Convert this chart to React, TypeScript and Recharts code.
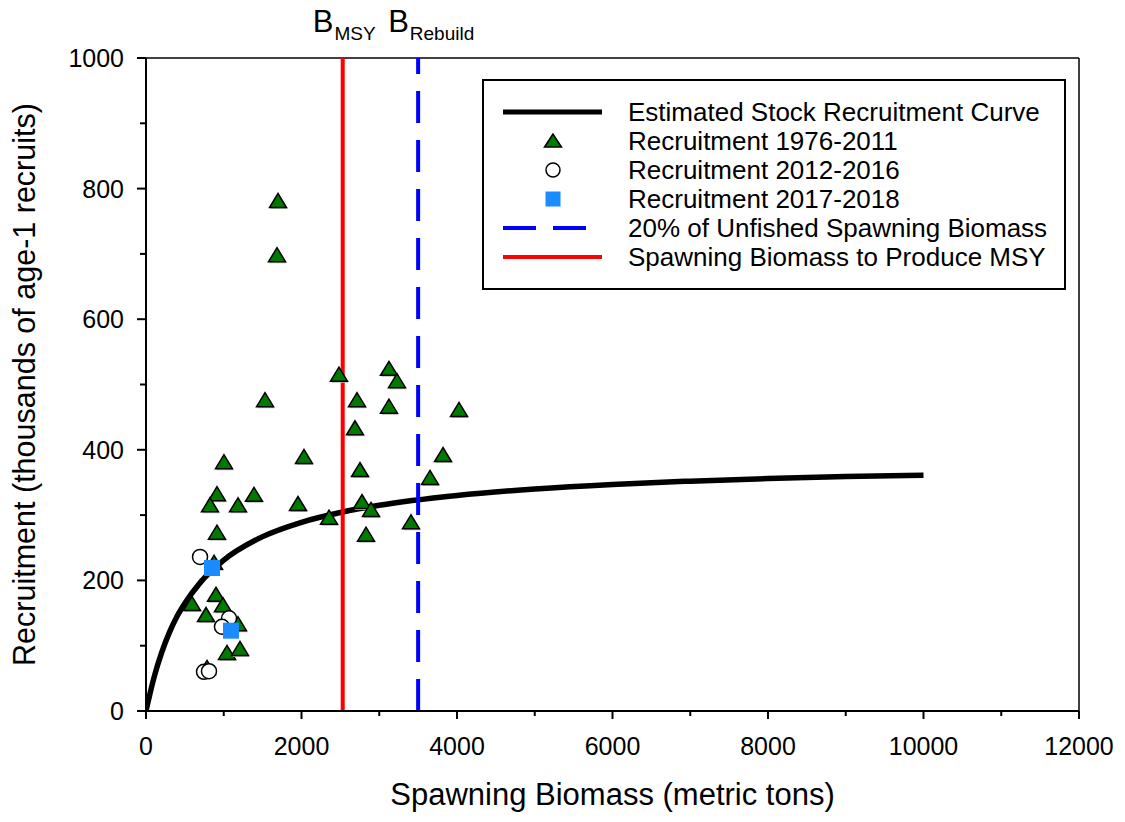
import React from 'react';
import {
  ComposedChart,
  Line,
  Scatter,
  XAxis,
  YAxis,
  ReferenceLine,
  Legend,
  Label,
} from 'recharts';

const FONT = "Arial, 'Liberation Sans', sans-serif";

// Fitted stock-recruitment curve (biomass, thousands of recruits)
const curveBiomass = [0, 100, 200, 300, 400, 500, 700, 1000, 1500, 2000, 2500, 3000, 4000, 5000, 6000, 7000, 8000, 9000, 10000];
const curveRecruits = [0, 50, 89, 120, 145, 165, 197, 231, 267, 289, 304, 315, 330, 340, 347, 352, 356, 359, 361];

// Recruitment 1976-2011
const earlyBiomass = [
  1698, 1685, 1531, 1003, 2032, 913, 1389, 823, 1183, 1955, 913, 2354, 2482, 2714, 2688, 2752, 2778, 2894,
  2830, 3125, 3228, 3125, 4026, 3820, 3653, 3408, 875, 592, 900, 990, 772, 1183, 1042, 1209, 785,
];
const earlyRecruits = [
  781, 698, 476, 381, 389, 332, 331, 315, 315, 317, 273, 296, 515, 476, 433, 369, 320, 308,
  270, 524, 505, 466, 461, 392, 357, 289, 227, 164, 178, 162, 147, 133, 89, 95, 66,
];

// Recruitment 2012-2016
const midBiomass = [695, 1068, 977, 746, 810];
const midRecruits = [236, 142, 129, 60, 61];

// Recruitment 2017-2018
const recentBiomass = [849, 1093];
const recentRecruits = [219, 123];

const B_MSY = 2530;
const B_REBUILD = 3500;

const xTicks = [0, 1000, 2000, 3000, 4000, 5000, 6000, 7000, 8000, 9000, 10000, 11000, 12000];
const yTicks = [0, 100, 200, 300, 400, 500, 600, 700, 800, 900, 1000];

const legendLabels = [
  'Estimated Stock Recruitment Curve',
  'Recruitment 1976-2011',
  'Recruitment 2012-2016',
  'Recruitment 2017-2018',
  '20% of Unfished Spawning Biomass',
  'Spawning Biomass to Produce MSY',
];

const toPoints = (xs: number[], ys: number[]) => xs.map((x, i) => ({ x, y: ys[i] }));

const curveData = toPoints(curveBiomass, curveRecruits);
const earlyData = toPoints(earlyBiomass, earlyRecruits);
const midData = toPoints(midBiomass, midRecruits);
const recentData = toPoints(recentBiomass, recentRecruits);

const Triangle = ({ cx, cy }: any) => (
  <g>
    <polygon
      points={`${cx + 1},${cy - 6} ${cx - 7.5},${cy + 8} ${cx + 9.5},${cy + 8}`}
      fill="#b8b8b8"
    />
    <polygon
      points={`${cx},${cy - 7.5} ${cx - 8.5},${cy + 6.5} ${cx + 8.5},${cy + 6.5}`}
      fill="#007a00"
      stroke="#000"
      strokeWidth={1.5}
    />
  </g>
);

const OpenCircle = ({ cx, cy }: any) => (
  <circle cx={cx} cy={cy} r={7.5} fill="#fff" stroke="#000" strokeWidth={1.5} />
);

const BlueSquare = ({ cx, cy }: any) => (
  <rect x={cx - 8} y={cy - 8} width={16} height={16} fill="#1a8cff" />
);

const XTick = ({ x, y, payload }: any) => {
  const major = payload.value % 2000 === 0;
  return (
    <g>
      <line x1={x} x2={x} y1={y} y2={y + (major ? 8 : 5)} stroke="#000" strokeWidth={2} />
      {major && (
        <text x={x} y={y + 44} textAnchor="middle" fontSize={25} fontFamily={FONT} fill="#000">
          {payload.value}
        </text>
      )}
    </g>
  );
};

const YTick = ({ x, y, payload }: any) => {
  const major = payload.value % 200 === 0;
  return (
    <g>
      <line x1={x - (major ? 9 : 6)} x2={x} y1={y} y2={y} stroke="#000" strokeWidth={2} />
      {major && (
        <text x={x - 22} y={y} dy="0.36em" textAnchor="end" fontSize={25} fontFamily={FONT} fill="#000">
          {payload.value}
        </text>
      )}
    </g>
  );
};

const BLabel = ({ viewBox, sub }: any) => (
  <text x={viewBox.x - 30} y={viewBox.y - 26} fontSize={31} fontFamily={FONT} fill="#000">
    B
    <tspan fontSize={19} dy={8} dx={1}>
      {sub}
    </tspan>
  </text>
);

// legend box: 584 x 211, symbols centred at x=71, text from x=146
const renderLegend = () => {
  const rowY = (i: number) => 33 + i * 29;
  return (
    <svg width={584} height={211} style={{ display: 'block' }}>
      <rect x={1} y={1} width={582} height={209} fill="#fff" stroke="#000" strokeWidth={2} />
      <line x1={21} x2={120} y1={rowY(0)} y2={rowY(0)} stroke="#000" strokeWidth={5} />
      <polygon
        points={`71,${rowY(1) - 7} 62.5,${rowY(1) + 6} 79.5,${rowY(1) + 6}`}
        fill="#007a00"
        stroke="#000"
        strokeWidth={1.5}
      />
      <circle cx={71} cy={rowY(2)} r={7} fill="#fff" stroke="#000" strokeWidth={1.5} />
      <rect x={63.5} y={rowY(3) - 7.5} width={15} height={15} fill="#1a8cff" />
      <line x1={21} x2={104} y1={rowY(4)} y2={rowY(4)} stroke="#0000ff" strokeWidth={4} strokeDasharray="33 17" />
      <line x1={21} x2={120} y1={rowY(5)} y2={rowY(5)} stroke="#ff0000" strokeWidth={4} />
      {legendLabels.map((label, i) => (
        <text key={label} x={146} y={rowY(i)} dy="0.36em" fontSize={26} fontFamily={FONT} fill="#000">
          {label}
        </text>
      ))}
    </svg>
  );
};

export default function App() {
  return (
    <div style={{ position: 'absolute', left: 0, top: 0, width: 1125, height: 822, fontFamily: FONT }}>
      <ComposedChart width={1125} height={822} margin={{ top: 58, right: 46, bottom: 0, left: 0 }}>
        <XAxis
          type="number"
          dataKey="x"
          domain={[0, 12000]}
          ticks={xTicks}
          interval={0}
          tickSize={0}
          tickMargin={0}
          tick={<XTick />}
          height={111}
          axisLine={{ stroke: '#000', strokeWidth: 2 }}
          allowDataOverflow
        >
          <Label
            content={({ viewBox }: any) => (
              <text
                x={viewBox.x + viewBox.width / 2}
                y={viewBox.y + 94}
                textAnchor="middle"
                fontSize={31}
                fontFamily={FONT}
                fill="#000"
              >
                Spawning Biomass (metric tons)
              </text>
            )}
          />
        </XAxis>
        <YAxis
          type="number"
          dataKey="y"
          domain={[0, 1000]}
          ticks={yTicks}
          interval={0}
          tickSize={0}
          tickMargin={0}
          tick={<YTick />}
          width={146}
          axisLine={{ stroke: '#000', strokeWidth: 2 }}
          allowDataOverflow
        >
          <Label
            content={({ viewBox }: any) => {
              const cx = 35;
              const cy = viewBox.y + viewBox.height / 2;
              return (
                <text
                  x={cx}
                  y={cy}
                  textAnchor="middle"
                  transform={`rotate(-90, ${cx}, ${cy})`}
                  fontSize={30.5}
                  fontFamily={FONT}
                  fill="#000"
                >
                  Recruitment (thousands of age-1 recruits)
                </text>
              );
            }}
          />
        </YAxis>

        <ReferenceLine y={1000} stroke="#000" strokeWidth={1.5} />
        <ReferenceLine x={12000} stroke="#000" strokeWidth={1.5} />

        <Line
          data={curveData}
          dataKey="y"
          type="monotone"
          stroke="#000"
          strokeWidth={5.5}
          dot={false}
          activeDot={false}
          isAnimationActive={false}
          name={legendLabels[0]}
        />

        <ReferenceLine
          x={B_MSY}
          stroke="#ff0000"
          strokeWidth={4}
          label={(props: any) => <BLabel {...props} sub="MSY" />}
        />
        <ReferenceLine
          x={B_REBUILD}
          stroke="#0000ff"
          strokeWidth={4}
          strokeDasharray="32 17"
          label={(props: any) => <BLabel {...props} sub="Rebuild" />}
        />

        <Scatter data={earlyData} dataKey="y" shape={<Triangle />} isAnimationActive={false} name={legendLabels[1]} />
        <Scatter data={midData} dataKey="y" shape={<OpenCircle />} isAnimationActive={false} name={legendLabels[2]} />
        <Scatter data={recentData} dataKey="y" shape={<BlueSquare />} isAnimationActive={false} name={legendLabels[3]} />

        <Legend
          layout="vertical"
          align="center"
          verticalAlign="middle"
          content={renderLegend}
          wrapperStyle={{ position: 'absolute', left: 482, top: 79, width: 584, height: 211 }}
        />
      </ComposedChart>
    </div>
  );
}
